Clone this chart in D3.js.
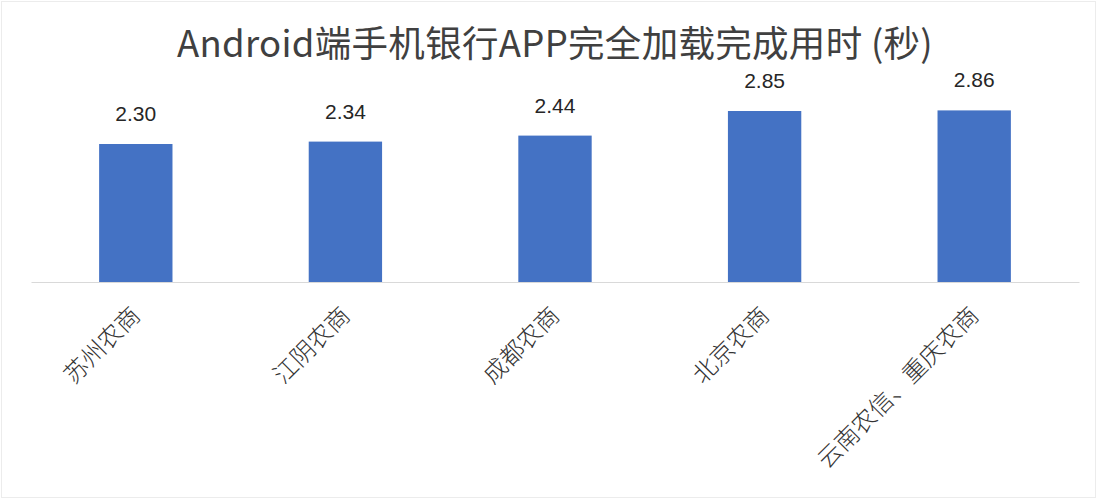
<!DOCTYPE html>
<html>
<head>
<meta charset="utf-8">
<script src="https://cdn.jsdelivr.net/npm/d3@7"></script>
<style>
  html, body { margin: 0; padding: 0; background: #fff; }
  svg { display: block; }
  .title { font-family: "Noto Sans CJK SC", "Noto Sans", sans-serif; fill: #404040; }
  .value { font-family: "Liberation Sans", Arial, sans-serif; fill: #262626; }
  .cat { font-family: "Noto Sans CJK SC", sans-serif; fill: #333; font-weight: 300; }
</style>
</head>
<body>
<div id="chart"></div>
<script>
const title = "Android端手机银行APP完全加载完成用时 (秒)";
const categories = ["苏州农商", "江阴农商", "成都农商", "北京农商", "云南农信、重庆农商"];
const values = [2.30, 2.34, 2.44, 2.85, 2.86];

const width = 1108;
const height = 500;
const baseline = 282;

const svg = d3.select("#chart")
    .append("svg")
    .attr("width", width)
    .attr("height", height);

// faint frame round the chart area
svg.append("rect")
    .attr("x", 1.5)
    .attr("y", 1.5)
    .attr("width", 1094)
    .attr("height", 496)
    .attr("fill", "#fff")
    .attr("stroke", "#ececec");

const xScale = d3.scaleBand()
    .domain(categories)
    .range([31, 1079])
    .paddingInner(0.65)
    .paddingOuter(0.325);

const yScale = d3.scaleLinear()
    .domain([0, 3.5])
    .range([baseline, 72]);

svg.append("text")
    .attr("class", "title")
    .attr("x", 555)
    .attr("y", 57)
    .attr("text-anchor", "middle")
    .attr("font-size", 36.5)
    .attr("letter-spacing", 0.3)
    .text(title);

svg.selectAll("rect.bar")
    .data(values)
    .enter()
    .append("rect")
    .attr("class", "bar")
    .attr("x", (d, i) => xScale(categories[i]))
    .attr("y", d => yScale(d))
    .attr("width", xScale.bandwidth())
    .attr("height", d => baseline - yScale(d))
    .attr("fill", "#4472c4");

svg.selectAll("text.value")
    .data(values)
    .enter()
    .append("text")
    .attr("class", "value")
    .attr("x", (d, i) => xScale(categories[i]) + xScale.bandwidth() / 2)
    .attr("y", d => yScale(d) - 23)
    .attr("text-anchor", "middle")
    .attr("font-size", 21)
    .text(d => d.toFixed(2));

// category axis
const xAxis = d3.axisBottom(xScale).tickSize(0).tickPadding(0);
const axisG = svg.append("g")
    .attr("transform", "translate(0," + baseline + ")")
    .call(xAxis);
axisG.select(".domain").attr("stroke", "#d9d9d9").attr("stroke-width", 1.2);
axisG.selectAll(".tick text")
    .attr("class", "cat")
    .attr("font-size", 24)
    .attr("text-anchor", "end")
    .attr("dy", null)
    .attr("y", 0)
    .attr("transform", "translate(6,35) rotate(-45)");
</script>
</body>
</html>
